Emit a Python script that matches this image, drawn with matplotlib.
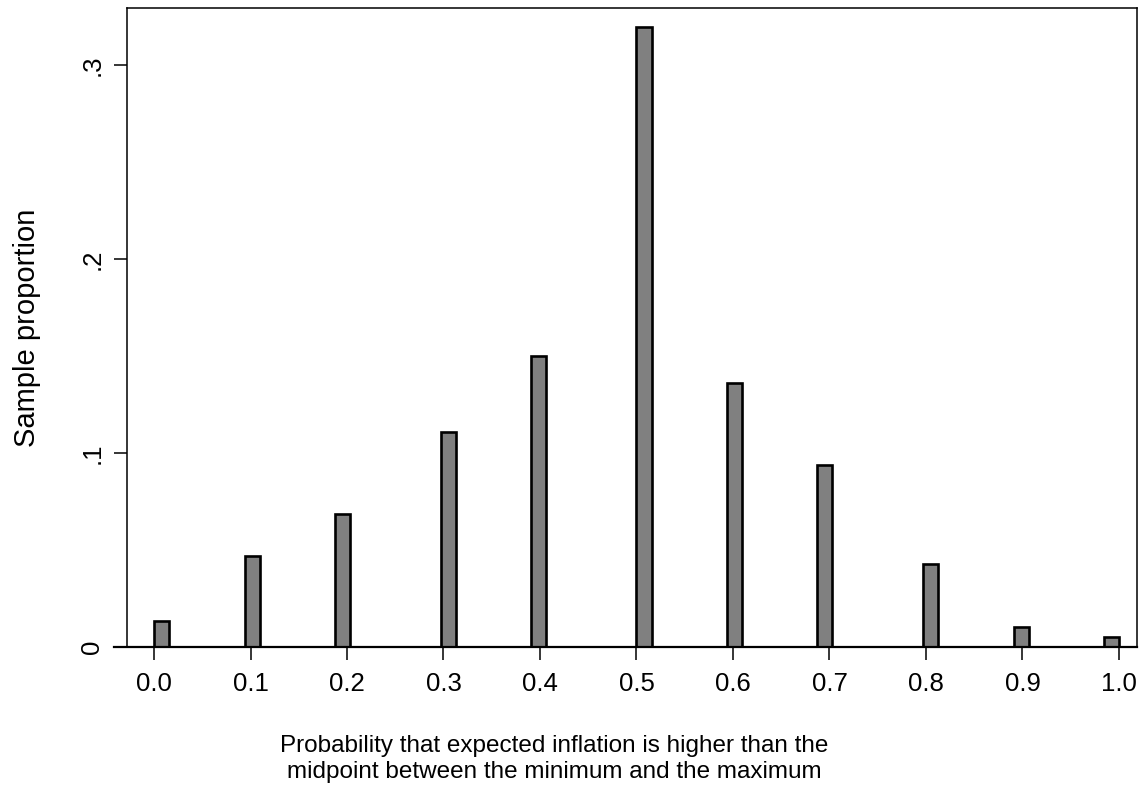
import matplotlib
matplotlib.use("Agg")
import matplotlib.pyplot as plt

# histogram: bin start, bin width 1/64
bin_left = [0.0, 0.094, 0.1875, 0.297, 0.391, 0.5, 0.594, 0.6875, 0.797, 0.891, 0.984]
proportion = [0.0133, 0.0467, 0.0686, 0.111, 0.150, 0.320, 0.136, 0.0939, 0.0428, 0.0103, 0.0052]
bin_width = 1 / 64

x_ticks = [0.0, 0.1, 0.2, 0.3, 0.4, 0.5, 0.6, 0.7, 0.8, 0.9, 1.0]
x_ticklabels = ["0.0", "0.1", "0.2", "0.3", "0.4", "0.5", "0.6", "0.7", "0.8", "0.9", "1.0"]
y_ticks = [0, 0.1, 0.2, 0.3]
y_ticklabels = ["0", ".1", ".2", ".3"]

plt.rcParams["font.family"] = ["Liberation Sans", "DejaVu Sans"]

W, H = 1140, 795
fig = plt.figure(figsize=(W / 100, H / 100), dpi=100)
# axes box in pixels: left 127, right 1137, top 8, bottom 647
ax = fig.add_axes([127 / W, 1 - 647 / H, (1137 - 127) / W, (647 - 8) / H])

ax.bar(bin_left, proportion, width=bin_width, align="edge",
       color="#808080", edgecolor="black", linewidth=1.9, zorder=3)

ax.set_xlim(-0.028, 1.0187)
ax.set_ylim(0, 0.3296)

ax.set_xticks(x_ticks)
ax.set_xticklabels(x_ticklabels, fontsize=18.5)
ax.set_yticks(y_ticks)
ax.set_yticklabels(y_ticklabels, fontsize=18.5, rotation=90, va="center")
ax.tick_params(axis="x", length=9.4, width=1.1, direction="out", pad=8.5)
ax.tick_params(axis="y", length=9.4, width=1.1, direction="out", pad=7)

for s in ax.spines.values():
    s.set_linewidth(1.1)
# x axis line runs a bit past the y axis, as in the original
ax.axhline(0, xmin=-13 / 1010, xmax=1, color="black", lw=1.6, clip_on=False, zorder=4)

fig.text(27 / W, 1 - 328 / H, "Sample proportion", rotation=90,
         ha="center", va="center", fontsize=21)
fig.text(554.5 / W, 1 - 759 / H,
         "Probability that expected inflation is higher than the\n"
         "midpoint between the minimum and the maximum",
         ha="center", va="center", fontsize=17.5, linespacing=1.2)

plt.savefig("out.png", dpi=100)
